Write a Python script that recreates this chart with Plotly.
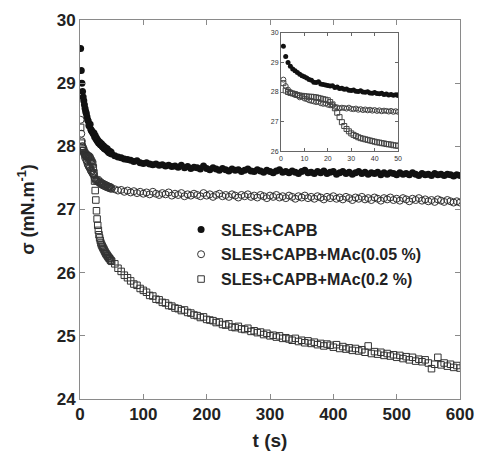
import plotly.graph_objects as go

# time grid (s): every 1 s up to 50 s, then every 5 s
t = list(range(1, 51)) + list(range(55, 601, 5))

sles_capb = [
    29.55, 29.2, 29.0, 28.87, 28.78, 28.72, 28.66, 28.6, 28.55, 28.52,
    28.47, 28.42, 28.4, 28.33, 28.32, 28.35, 28.27, 28.25, 28.24, 28.22,
    28.2, 28.21, 28.15, 28.17, 28.12, 28.13, 28.09, 28.1, 28.06, 28.05,
    28.07, 28.03, 28.02, 28.04, 28.0, 27.99, 28.01, 27.97, 27.96, 27.98,
    27.95, 27.94, 27.96, 27.92, 27.93, 27.9, 27.92, 27.89, 27.91, 27.88,
    27.85, 27.83, 27.82, 27.8, 27.79, 27.78, 27.76, 27.77, 27.74, 27.73,
    27.74, 27.72, 27.71, 27.72, 27.7, 27.71, 27.69, 27.7, 27.68, 27.69,
    27.67, 27.7, 27.66, 27.68, 27.65, 27.67, 27.66, 27.64, 27.69, 27.65,
    27.63, 27.66, 27.64, 27.62, 27.65, 27.63, 27.61, 27.64, 27.62, 27.63,
    27.6, 27.62, 27.64, 27.61, 27.6, 27.63, 27.61, 27.59, 27.62, 27.6,
    27.58, 27.61, 27.63, 27.59, 27.6, 27.58, 27.61, 27.59, 27.57, 27.6,
    27.62, 27.58, 27.59, 27.57, 27.6, 27.58, 27.61, 27.57, 27.59, 27.6,
    27.56, 27.58, 27.6, 27.57, 27.59, 27.56, 27.58, 27.6, 27.57, 27.59,
    27.56, 27.58, 27.57, 27.59, 27.55, 27.58, 27.56, 27.58, 27.57, 27.55,
    27.58, 27.56, 27.57, 27.55, 27.58, 27.56, 27.54, 27.57, 27.55, 27.56,
    27.54, 27.57, 27.55, 27.56, 27.54, 27.56, 27.55, 27.53, 27.55, 27.54,
]

mac_005 = [
    28.42, 28.2, 28.08, 28.0, 27.95, 27.9, 27.88, 27.82, 27.84, 27.78,
    27.76, 27.72, 27.7, 27.68, 27.66, 27.67, 27.62, 27.6, 27.61, 27.57,
    27.55, 27.56, 27.5, 27.48, 27.45, 27.47, 27.46, 27.44, 27.47, 27.43,
    27.42, 27.44, 27.4, 27.42, 27.39, 27.41, 27.38, 27.4, 27.37, 27.39,
    27.36, 27.38, 27.35, 27.37, 27.36, 27.34, 27.36, 27.33, 27.35, 27.33,
    27.32, 27.3, 27.31, 27.28, 27.3, 27.27, 27.29, 27.26, 27.28, 27.25,
    27.27, 27.24, 27.28, 27.25, 27.23, 27.26, 27.24, 27.27, 27.22, 27.25,
    27.23, 27.26, 27.21, 27.24, 27.22, 27.25, 27.23, 27.21, 27.26, 27.22,
    27.24, 27.2, 27.23, 27.25, 27.21, 27.23, 27.2, 27.24, 27.22, 27.19,
    27.23, 27.21, 27.24, 27.2, 27.22, 27.19, 27.23, 27.21, 27.18, 27.22,
    27.2, 27.23, 27.19, 27.21, 27.18, 27.22, 27.2, 27.17, 27.21, 27.19,
    27.22, 27.18, 27.2, 27.17, 27.21, 27.19, 27.16, 27.2, 27.18, 27.21,
    27.17, 27.19, 27.16, 27.2, 27.18, 27.15, 27.19, 27.17, 27.2, 27.16,
    27.18, 27.15, 27.19, 27.17, 27.14, 27.18, 27.16, 27.19, 27.15, 27.17,
    27.14, 27.18, 27.16, 27.13, 27.17, 27.15, 27.18, 27.14, 27.16, 27.13,
    27.15, 27.12, 27.16, 27.14, 27.12, 27.15, 27.13, 27.11, 27.13, 27.11,
]

mac_02 = [
    28.3, 28.05, 28.0, 27.97, 27.95, 27.93, 27.9, 27.88, 27.87, 27.86,
    27.85, 27.84, 27.84, 27.83, 27.82, 27.8, 27.78, 27.76, 27.74, 27.72,
    27.66, 27.58, 27.45, 27.3, 27.15, 26.98, 26.85, 26.75, 26.67, 26.6,
    26.55, 26.51, 26.47, 26.44, 26.42, 26.4, 26.38, 26.36, 26.34, 26.32,
    26.3, 26.29, 26.27, 26.26, 26.24, 26.23, 26.22, 26.2, 26.19, 26.18,
    26.14, 26.07, 26.02, 25.96, 25.92, 25.87, 25.82, 25.8, 25.75, 25.72,
    25.69, 25.64, 25.63, 25.58, 25.57, 25.53, 25.52, 25.48, 25.47, 25.44,
    25.43, 25.4, 25.41, 25.37, 25.36, 25.33, 25.32, 25.29, 25.3, 25.26,
    25.25, 25.24, 25.21, 25.22, 25.18, 25.17, 25.19, 25.14, 25.13, 25.15,
    25.11, 25.1, 25.12, 25.07, 25.08, 25.05, 25.06, 25.02, 25.04, 25.0,
    25.01, 24.98, 25.0, 24.96, 24.97, 24.95, 24.93, 24.96, 24.91, 24.93,
    24.89, 24.92, 24.88, 24.9, 24.86, 24.88, 24.84, 24.87, 24.85, 24.82,
    24.86, 24.8, 24.83, 24.79, 24.81, 24.77, 24.8, 24.76, 24.78, 24.74,
    24.84, 24.72, 24.75, 24.71, 24.74, 24.69, 24.72, 24.68, 24.7, 24.66,
    24.69, 24.64, 24.67, 24.62, 24.66, 24.6, 24.63, 24.59, 24.62, 24.57,
    24.48, 24.55, 24.66, 24.54, 24.57, 24.52, 24.55, 24.5, 24.53, 24.49,
]

inset_n = 50  # points up to 50 s shown in the inset

names = ["SLES+CAPB", "SLES+CAPB+MAc(0.05 %)", "SLES+CAPB+MAc(0.2 %)"]
series = [sles_capb, mac_005, mac_02]
markers = [
    dict(symbol="circle", size=7, color="#111111", line=dict(width=0)),
    dict(symbol="circle-open", size=7, color="#333333", line=dict(width=1)),
    dict(symbol="square-open", size=6.5, color="#333333", line=dict(width=1)),
]
inset_markers = [
    dict(symbol="circle", size=5, color="#111111", line=dict(width=0)),
    dict(symbol="circle-open", size=5, color="#444444", line=dict(width=1)),
    dict(symbol="square-open", size=5, color="#444444", line=dict(width=1)),
]

fig = go.Figure()
for i, (nm, ys) in enumerate(zip(names, series)):
    fig.add_trace(go.Scatter(x=t, y=ys, mode="markers", name=nm,
                             marker=markers[i], legendgroup=str(i),
                             xaxis="x", yaxis="y"))
for i, ys in enumerate(series):
    fig.add_trace(go.Scatter(x=t[:inset_n], y=ys[:inset_n], mode="markers",
                             marker=inset_markers[i], showlegend=False,
                             xaxis="x2", yaxis="y2"))

fam = "Liberation Sans, Arial, sans-serif"
txt = "#222222"
axcol = "#8a8a8a"

fig.update_layout(
    width=477, height=452,
    margin=dict(l=80, r=17, t=20, b=53, autoexpand=False),
    paper_bgcolor="white", plot_bgcolor="white",
    font=dict(family=fam, color=txt),
    showlegend=True,
    legend=dict(x=0.266, y=0.492, xanchor="left", yanchor="top",
                bgcolor="rgba(0,0,0,0)", tracegroupgap=1,
                font=dict(size=16, weight="bold", family=fam, color=txt)),
    xaxis=dict(range=[0, 600], tickvals=[0, 100, 200, 300, 400, 500, 600],
               ticks="inside", ticklen=5, tickcolor=axcol, showline=True,
               linecolor=axcol, linewidth=1, mirror="ticks", showgrid=False,
               zeroline=False, ticklabeloverflow="allow", automargin=False,
               tickfont=dict(size=17, weight="bold", family=fam, color=txt),
               title=dict(text="t (s)", standoff=10,
                          font=dict(size=19, weight="bold", family=fam, color=txt))),
    yaxis=dict(range=[24, 30], tickvals=[24, 25, 26, 27, 28, 29, 30],
               ticks="inside", ticklen=5, tickcolor=axcol, showline=True,
               linecolor=axcol, linewidth=1, mirror="ticks", showgrid=False,
               zeroline=False, ticklabeloverflow="allow", automargin=False,
               tickfont=dict(size=17, weight="bold", family=fam, color=txt),
               title=dict(text="σ (mN.m<sup>-1</sup>)", standoff=17,
                          font=dict(size=18, weight="bold", family=fam, color=txt))),
    xaxis2=dict(domain=[0.529, 0.837], anchor="y2", range=[0, 50],
                tickvals=[0, 10, 20, 30, 40, 50], ticks="inside", ticklen=3,
                tickcolor="#666666", showline=True, linecolor="#666666",
                linewidth=1, mirror="ticks", showgrid=False, zeroline=False,
                automargin=False,
                tickfont=dict(size=7, family=fam, color="#333333")),
    yaxis2=dict(domain=[0.654, 0.966], anchor="x2", range=[26, 30],
                tickvals=[26, 27, 28, 29, 30], ticks="inside", ticklen=3,
                tickcolor="#666666", showline=True, linecolor="#666666",
                linewidth=1, mirror="ticks", showgrid=False, zeroline=False,
                automargin=False,
                tickfont=dict(size=7, family=fam, color="#333333")),
)

fig.write_html("out.html", config={"displayModeBar": False},
               post_script="document.body.style.margin='0px';")
